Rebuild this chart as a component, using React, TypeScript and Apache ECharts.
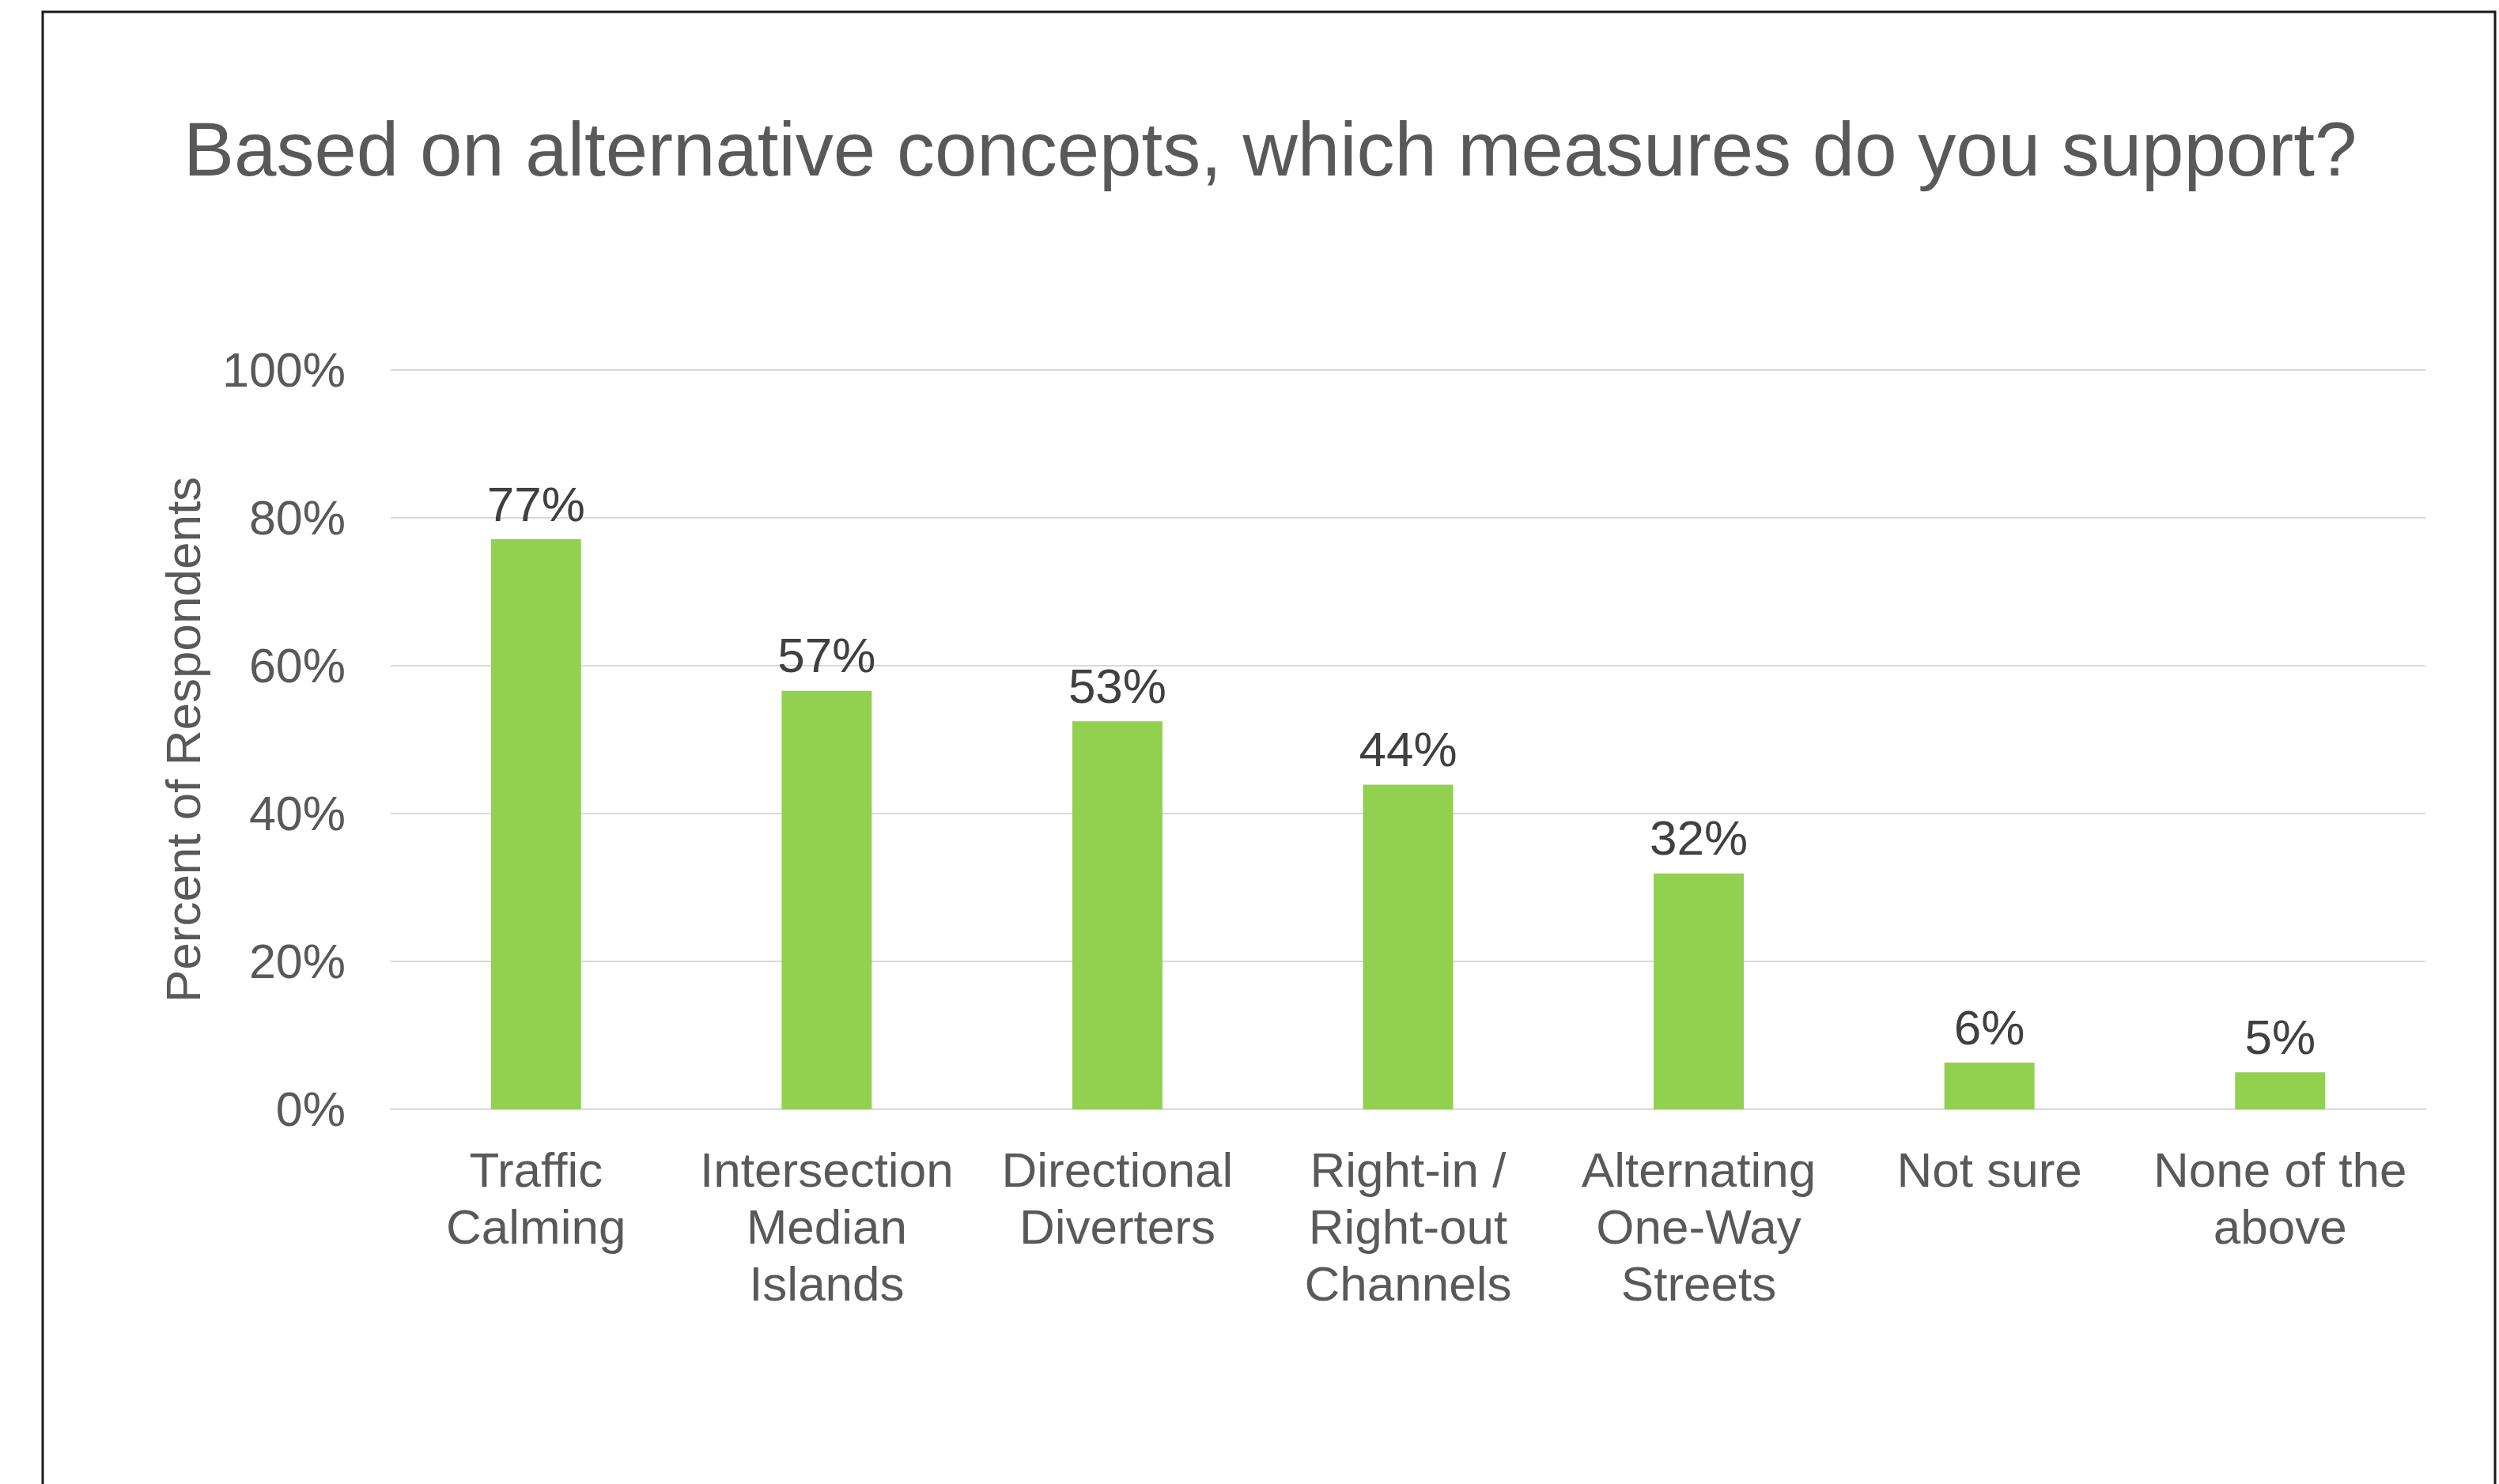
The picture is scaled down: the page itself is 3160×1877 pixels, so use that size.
import React, { useEffect, useRef } from "react";
import * as echarts from "echarts";

const titleText = "Based on alternative concepts, which measures do you support?";
const categories = [
  "Traffic\nCalming",
  "Intersection\nMedian\nIslands",
  "Directional\nDiverters",
  "Right-in /\nRight-out\nChannels",
  "Alternating\nOne-Way\nStreets",
  "Not sure",
  "None of the\nabove",
];
const percentValues = [77.1, 56.6, 52.5, 43.9, 31.9, 6.3, 5.0];
const yAxisName = "Percent of Respondents";
const yMin = 0;
const yMax = 100;
const yInterval = 20;

const FONT = '"Liberation Sans", Arial, Helvetica, sans-serif';

export default function App() {
  const ref = useRef<HTMLDivElement>(null);
  useEffect(() => {
    document.body.style.margin = "0";
    if (!ref.current) return;
    const chart = echarts.init(ref.current, undefined, { renderer: "svg" });
    chart.setOption({
      animation: false,
      backgroundColor: "#ffffff",
      textStyle: { fontFamily: FONT },
      title: {
        text: titleText,
        left: 232,
        top: 140,
        padding: 0,
        textStyle: {
          fontFamily: FONT,
          fontSize: 96,
          lineHeight: 96,
          fontWeight: "normal",
          color: "#595959",
        },
      },
      graphic: [
        {
          type: "rect",
          shape: { x: 54, y: 15, width: 3101, height: 1920 },
          style: { fill: "none", stroke: "#1a1a1a", lineWidth: 3 },
          silent: true,
          z: 100,
        },
      ],
      grid: { left: 494, right: 93, top: 468, bottom: 474, containLabel: false },
      xAxis: {
        type: "category",
        data: categories,
        axisLine: { show: true, lineStyle: { color: "#d9d9d9", width: 2 } },
        axisTick: { show: false },
        axisLabel: {
          interval: 0,
          margin: 40,
          fontFamily: FONT,
          fontSize: 62,
          lineHeight: 72,
          color: "#595959",
          align: "center",
        },
      },
      yAxis: {
        type: "value",
        min: yMin,
        max: yMax,
        interval: yInterval,
        name: yAxisName,
        nameLocation: "middle",
        nameGap: 232,
        nameRotate: 90,
        nameTextStyle: { fontFamily: FONT, fontSize: 62, color: "#595959" },
        axisLine: { show: false },
        axisTick: { show: false },
        axisLabel: {
          formatter: "{value}%",
          margin: 57,
          fontFamily: FONT,
          fontSize: 61,
          color: "#595959",
        },
        splitLine: { lineStyle: { color: "#d9d9d9", width: 2 } },
      },
      series: [
        {
          type: "bar",
          data: percentValues,
          barWidth: "31%",
          itemStyle: { color: "#92D050" },
          label: {
            show: true,
            position: "top",
            distance: 14,
            fontFamily: FONT,
            fontSize: 62,
            color: "#404040",
            formatter: (p: any) => Math.round(p.value) + "%",
          },
        },
      ],
    });
    return () => chart.dispose();
  }, []);
  return <div ref={ref} style={{ width: 3160, height: 1877 }} />;
}
